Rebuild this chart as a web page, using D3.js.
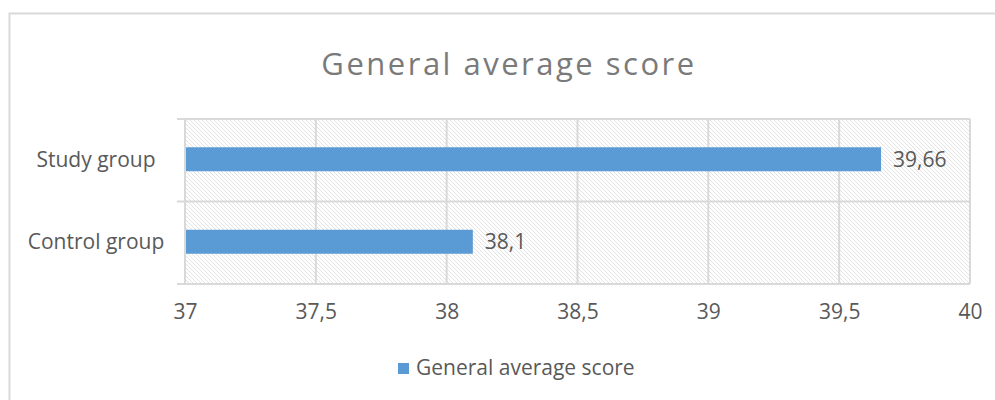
<!DOCTYPE html>
<html>
<head>
<meta charset="utf-8">
<script src="https://cdn.jsdelivr.net/npm/d3@7"></script>
<style>
  body { margin: 0; background: #fff; }
  text { font-family: "Open Sans", sans-serif; fill: #595959; }
</style>
</head>
<body>
<div id="chart"></div>
<script>
// data
var categories = ["Study group", "Control group"];
var values = [39.66, 38.1];
var valueLabels = ["39,66", "38,1"];
var xTicks = [37, 37.5, 38, 38.5, 39, 39.5, 40];
var seriesName = "General average score";
var title = "General average score";

// dimensions
var W = 995, H = 400;
var margin = {top: 119, right: 25, bottom: 116, left: 185},
    width = 970 - margin.left,
    height = 284 - margin.top;

var svg = d3.select("#chart")
  .append("svg")
    .attr("width", W)
    .attr("height", H);

// hatch pattern for plot background
var pat = svg.append("defs").append("pattern")
    .attr("id", "hatch")
    .attr("patternUnits", "userSpaceOnUse")
    .attr("width", 4)
    .attr("height", 4);
pat.append("rect").attr("width", 4).attr("height", 4).attr("fill", "#fff");
pat.append("path")
    .attr("d", "M-1,-1 L5,5 M3,-1 L5,1 M-1,3 L1,5")
    .attr("stroke", "#e2e2e2")
    .attr("stroke-width", 1);

// outer chart border
svg.append("rect")
    .attr("x", 9.5).attr("y", 13.5)
    .attr("width", 1000).attr("height", 400)
    .attr("fill", "none")
    .attr("stroke", "#d9d9d9")
    .attr("stroke-width", 2);

// title
svg.append("text")
    .attr("x", 509)
    .attr("y", 75)
    .attr("text-anchor", "middle")
    .style("font-size", "31px")
    .style("letter-spacing", "2.5px")
    .style("fill", "#7a7a7a")
    .text(title);

var g = svg.append("g")
    .attr("transform", "translate(" + margin.left + "," + margin.top + ")");

var x = d3.scaleLinear()
    .domain([37, 40])
    .range([0, width]);

var y = d3.scaleBand()
    .domain(categories)
    .range([0, height]);

// plot background
g.append("rect")
    .attr("width", width)
    .attr("height", height)
    .attr("fill", "url(#hatch)");

// vertical gridlines
g.append("g")
  .selectAll("line")
  .data(xTicks)
  .enter()
  .append("line")
    .attr("x1", function (d) { return x(d); })
    .attr("x2", function (d) { return x(d); })
    .attr("y1", 0)
    .attr("y2", height)
    .attr("stroke", "#d9d9d9")
    .attr("stroke-width", 2);

// horizontal category boundaries (with left tick marks)
var bounds = categories.map(function (c) { return y(c); }).concat([height]);
g.append("g")
  .selectAll("line")
  .data(bounds)
  .enter()
  .append("line")
    .attr("x1", -8)
    .attr("x2", width)
    .attr("y1", function (d) { return d; })
    .attr("y2", function (d) { return d; })
    .attr("stroke", "#d9d9d9")
    .attr("stroke-width", 2);

// x axis labels
var xAxis = g.append("g")
    .attr("transform", "translate(0," + height + ")")
    .call(d3.axisBottom(x).tickValues(xTicks).tickSize(0).tickPadding(20)
      .tickFormat(function (d) { return String(d).replace(".", ","); }));
xAxis.select(".domain").remove();
xAxis.selectAll("text")
    .style("font-size", "21px")
    .attr("fill", "#595959");

// y axis labels, centred in the label column
var yAxis = g.append("g")
    .call(d3.axisLeft(y).tickSize(0).tickPadding(0));
yAxis.select(".domain").remove();
yAxis.selectAll("text")
    .attr("x", -89)
    .attr("text-anchor", "middle")
    .style("font-size", "21px")
    .attr("fill", "#595959");

// bars
var barH = 24;
g.append("g")
  .selectAll("rect")
  .data(values)
  .enter()
  .append("rect")
    .attr("x", x(37) + 1)
    .attr("y", function (d, i) { return y(categories[i]) + y.bandwidth() / 2 - barH / 2 - 1; })
    .attr("width", function (d) { return x(d) - x(37) - 1; })
    .attr("height", barH)
    .attr("fill", "#5b9bd5");

// value labels
g.append("g")
  .selectAll("text")
  .data(values)
  .enter()
  .append("text")
    .attr("x", function (d) { return x(d) + 12; })
    .attr("y", function (d, i) { return y(categories[i]) + y.bandwidth() / 2 - 1; })
    .attr("dy", "0.35em")
    .style("font-size", "21px")
    .text(function (d, i) { return valueLabels[i]; });

// legend
var legend = svg.append("g").attr("transform", "translate(398,363)");
legend.append("rect")
    .attr("width", 11).attr("height", 11)
    .attr("fill", "#5b9bd5");
legend.append("text")
    .attr("x", 18)
    .attr("y", 5)
    .attr("dy", "0.35em")
    .style("font-size", "21px")
    .text(seriesName);
</script>
</body>
</html>
